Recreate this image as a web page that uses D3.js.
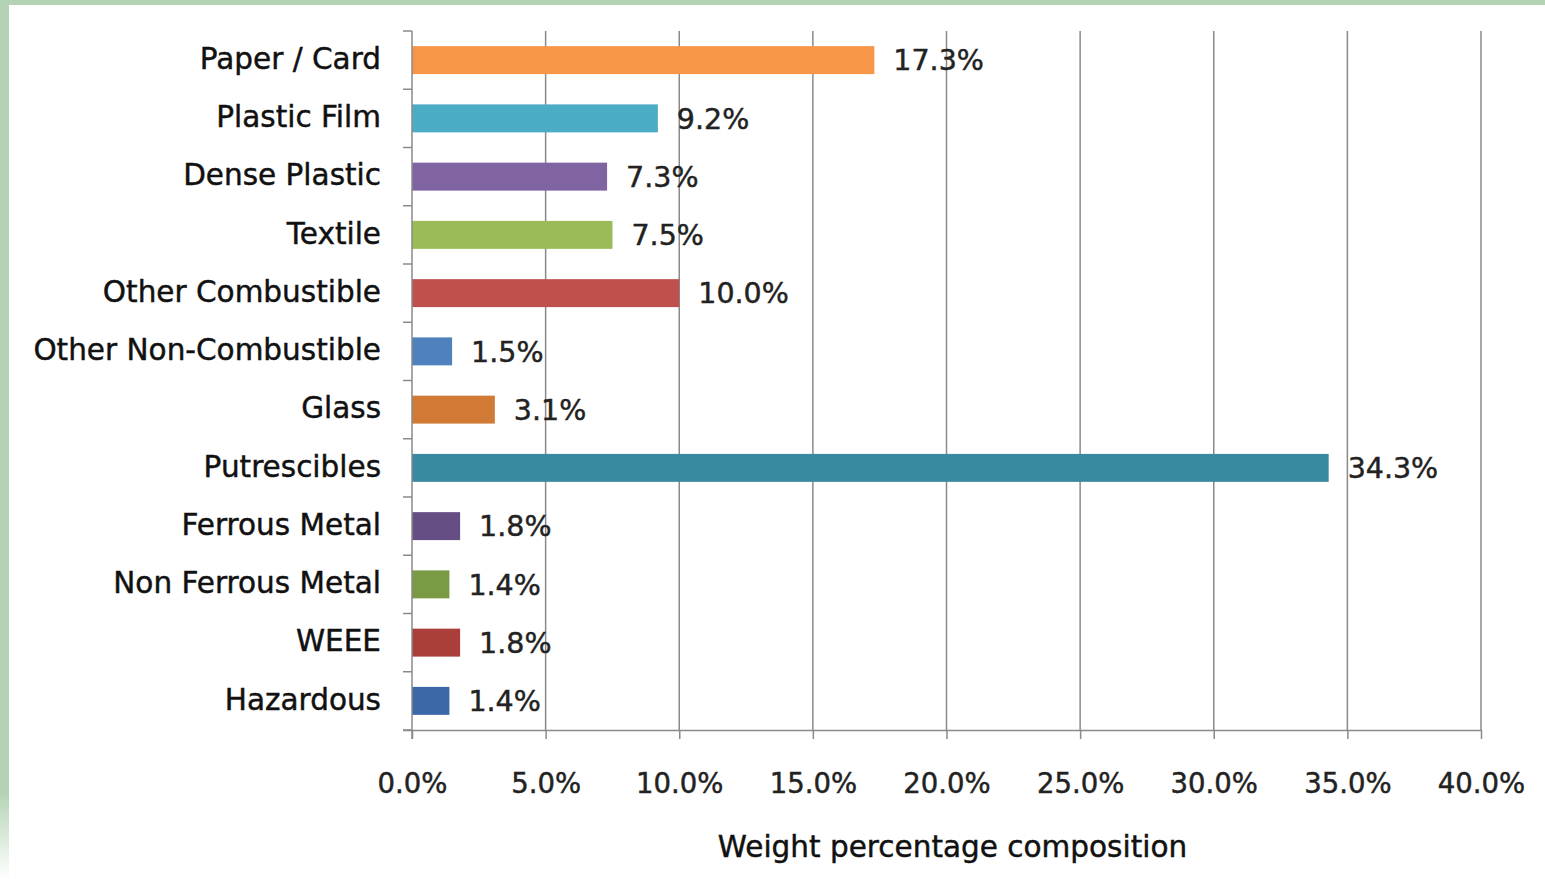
<!DOCTYPE html>
<html>
<head>
<meta charset="utf-8">
<script src="https://cdn.jsdelivr.net/npm/d3@7"></script>
<style>
  html, body { margin: 0; padding: 0; background: #fff; }
  svg { display: block; font-family: "DejaVu Sans", Verdana, sans-serif; }
</style>
</head>
<body>
<svg id="chart"></svg>
<script>
// chart data
var categories = ["Paper / Card", "Plastic Film", "Dense Plastic", "Textile", "Other Combustible",
  "Other Non-Combustible", "Glass", "Putrescibles", "Ferrous Metal", "Non Ferrous Metal", "WEEE", "Hazardous"]
var values = [17.3, 9.2, 7.3, 7.5, 10.0, 1.5, 3.1, 34.3, 1.8, 1.4, 1.8, 1.4]
var barColors = ["#F79646", "#4BACC6", "#8064A2", "#9BBB59", "#C0504D", "#4F81BD",
  "#D07A35", "#378AA0", "#654E84", "#7A9A44", "#AA3E3B", "#3D68A8"]
var xTicks = [0, 5, 10, 15, 20, 25, 30, 35, 40]
var axisTitle = "Weight percentage composition"

var width = 1545
var height = 879
var margin = { top: 31, bottom: 149, left: 412, right: 64 }
var bodyWidth = width - margin.left - margin.right
var bodyHeight = height - margin.top - margin.bottom
var textWeight = 0.45 // thin outline to thicken the glyphs a bit

var svg = d3.select("#chart").attr("width", width).attr("height", height)

// slide frame (green strips on top and left)
svg.append("rect").attr("x", 0).attr("y", 0).attr("width", width).attr("height", 5).attr("fill", "#B3D3B4")
var grad = svg.append("defs").append("linearGradient").attr("id", "leftStrip")
  .attr("x1", 0).attr("y1", 0).attr("x2", 0).attr("y2", 1)
grad.append("stop").attr("offset", "0.9").attr("stop-color", "#B3D3B4")
grad.append("stop").attr("offset", "1").attr("stop-color", "#FFFFFF")
svg.append("rect").attr("x", 0).attr("y", 0).attr("width", 9).attr("height", height).attr("fill", "url(#leftStrip)")

var xScale = d3.scaleLinear().domain([0, 40]).range([0, bodyWidth])
var yScale = d3.scaleBand().domain(categories).range([0, bodyHeight]).paddingInner(0.52).paddingOuter(0.26)

var g = svg.append("g").attr("transform", `translate(${margin.left},${margin.top})`)

// vertical gridlines
g.selectAll(".grid").data(xTicks.slice(1)).enter().append("line")
  .attr("x1", d => xScale(d)).attr("x2", d => xScale(d))
  .attr("y1", 0).attr("y2", bodyHeight)
  .attr("stroke", "#8a8a8a").attr("stroke-width", 1.5)

// bars
g.selectAll(".bar").data(values).enter().append("rect")
  .attr("x", 0)
  .attr("y", (d, i) => yScale(categories[i]))
  .attr("width", d => xScale(d))
  .attr("height", yScale.bandwidth())
  .attr("fill", (d, i) => barColors[i])

// value labels
g.selectAll(".val").data(values).enter().append("text")
  .attr("x", d => xScale(d) + 19)
  .attr("y", (d, i) => yScale(categories[i]) + yScale.bandwidth() / 2)
  .attr("dy", "0.36em")
  .attr("font-size", 28.5)
  .attr("fill", "#222").attr("stroke", "#222").attr("stroke-width", textWeight)
  .text(d => d.toFixed(1) + "%")

// x axis
var xAxis = d3.axisBottom(xScale).tickValues(xTicks).tickSize(9).tickPadding(34)
  .tickFormat(d => d.toFixed(1) + "%")
var xg = g.append("g").attr("transform", `translate(0,${bodyHeight})`).call(xAxis)
xg.select(".domain").attr("stroke", "#8a8a8a").attr("stroke-width", 1.5)
  .attr("d", `M${-9},0.5H${bodyWidth}`)
xg.selectAll(".tick line").attr("stroke", "#8a8a8a").attr("stroke-width", 1.5)
xg.selectAll(".tick text").attr("font-size", 27.5).attr("fill", "#222")
  .attr("stroke", "#222").attr("stroke-width", textWeight)
  .attr("font-family", "DejaVu Sans, sans-serif")

// y axis: ticks at category boundaries
var step = yScale.step()
var bounds = d3.range(categories.length + 1).map(i => yScale.range()[0] + yScale.paddingOuter() * step - yScale.paddingInner() * step / 2 + i * step)
g.append("line").attr("x1", 0).attr("x2", 0).attr("y1", 0).attr("y2", bodyHeight + 9)
  .attr("stroke", "#8a8a8a").attr("stroke-width", 1.5)
g.selectAll(".ytick").data(bounds).enter().append("line")
  .attr("x1", -9).attr("x2", 0).attr("y1", d => d).attr("y2", d => d)
  .attr("stroke", "#8a8a8a").attr("stroke-width", 1.5)

// category labels
g.selectAll(".cat").data(categories).enter().append("text")
  .attr("x", -31)
  .attr("y", d => yScale(d) + yScale.bandwidth() / 2)
  .attr("dy", "0.3em")
  .attr("text-anchor", "end")
  .attr("font-size", 29.5)
  .attr("fill", "#111").attr("stroke", "#111").attr("stroke-width", textWeight)
  .text(d => d)

// axis title
svg.append("text")
  .attr("x", margin.left + bodyWidth / 2 + 6)
  .attr("y", 857)
  .attr("text-anchor", "middle")
  .attr("font-size", 29.5)
  .attr("fill", "#111").attr("stroke", "#111").attr("stroke-width", textWeight)
  .text(axisTitle)
</script>
</body>
</html>
